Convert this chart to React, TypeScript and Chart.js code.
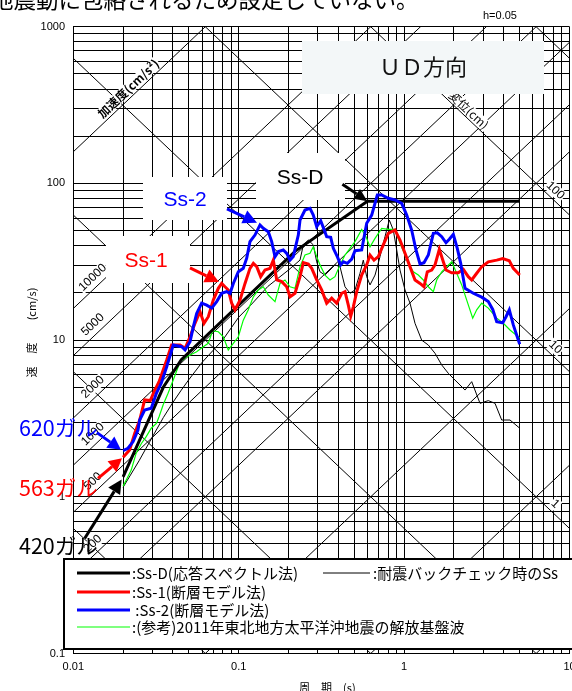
import { useEffect, useRef } from "react";
import { Chart, registerables } from "chart.js";
Chart.register(...registerables);

const TWO_PI = 2 * Math.PI;

// ---- Data (period s, pseudo velocity cm/s) ----
const ss2Period = [0.02,0.0214,0.023,0.0246,0.0252,0.027,0.0296,0.0318,0.034,0.0367,0.0402,0.0452,0.0474,0.0508,0.0532,0.0557,0.0597,0.064,0.0687,0.0736,0.0789,0.0846,0.0886,0.0928,0.0995,0.1066,0.1118,0.117,0.1254,0.1345,0.1408,0.151,0.1583,0.1658,0.1736,0.1861,0.1951,0.2043,0.2138,0.2293,0.2348,0.2517,0.2698,0.2825,0.2962,0.3131,0.3279,0.3404,0.3599,0.3733,0.3946,0.4137,0.429,0.4536,0.4823,0.5049,0.5541,0.594,0.6369,0.6887,0.7321,0.8026,0.881,0.967,1.037,1.111,1.18,1.248,1.319,1.401,1.502,1.588,1.688,1.792,1.876,1.984,2.097,2.199,2.335,2.62,2.946,3.229,3.434,3.63,3.947,4.132,4.326,4.573,5.0];
const ss2Velocity = [1.97,2.04,2.25,2.67,3.09,3.58,3.67,4.58,5.3,6.76,9.3,9.08,8.65,9.77,12.2,14.8,17.2,16.7,16.0,17.6,19.9,20.4,19.9,23.0,27.3,28.7,33.3,42.5,46.8,54.3,51.7,49.2,42.5,34.1,36.7,37.6,35.8,32.4,34.1,46.8,58.4,67.6,69.4,62.8,52.9,57.8,50.9,45.7,45.3,38.5,34.1,30.2,31.6,30.9,32.9,37.2,37.6,55.7,62.8,84.3,84.3,80.3,78.4,74.6,62.8,50.4,37.6,30.6,31.2,34.9,48.0,48.4,45.7,41.8,44.0,47.3,38.5,30.9,21.4,19.9,18.8,17.6,15.7,13.1,12.9,14.1,15.6,12.5,9.4];

const ss1Period = [0.02,0.0219,0.0235,0.0252,0.027,0.0292,0.0311,0.033,0.0367,0.0393,0.0442,0.0474,0.0508,0.0544,0.0583,0.0617,0.0655,0.0702,0.0753,0.0789,0.0826,0.0865,0.0907,0.095,0.1018,0.1092,0.117,0.1226,0.1285,0.1358,0.1442,0.1546,0.1619,0.1698,0.182,0.1951,0.2043,0.219,0.2348,0.2459,0.2636,0.2763,0.2962,0.3174,0.3404,0.365,0.3913,0.4195,0.4393,0.46,0.4756,0.4932,0.5171,0.5541,0.594,0.6222,0.6577,0.6982,0.7484,0.8026,0.881,0.9445,1.013,1.075,1.164,1.248,1.319,1.381,1.469,1.538,1.633,1.726,1.792,1.94,2.127,2.28,2.444,2.563,2.748,2.946,3.229,3.63,3.947,4.326,4.573,5.0];
const ss1Velocity = [1.79,1.99,2.54,3.09,4.15,4.11,4.8,5.43,7.46,9.3,9.3,8.87,10.5,12.8,15.2,12.8,14.1,18.0,21.4,23.0,21.9,20.9,17.2,15.6,18.0,23.0,28.7,30.9,29.4,25.4,28.0,28.7,32.4,24.2,23.6,21.9,18.9,19.9,25.4,31.2,30.6,28.7,24.2,20.9,17.2,18.5,17.2,19.9,20.4,16.7,14.2,16.3,20.4,26.0,30.2,34.9,32.4,34.1,40.5,48.0,50.4,43.5,35.8,30.2,24.2,23.0,21.9,27.3,28.0,30.2,38.0,31.6,28.0,26.9,26.9,28.3,25.4,24.2,26.7,29.4,31.6,32.4,33.1,32.1,28.7,26.0];

const ssdPeriod = [0.02, 0.035, 0.045, 0.22, 0.6, 5.0];
const ssdVelocity = [1.34, 5.0, 7.5, 37, 77, 77];

const bcPeriod = [0.02,0.025,0.03,0.035,0.04,0.045,0.05,0.06,0.07,0.08,0.1,0.12,0.15,0.2,0.2348,0.2459,0.2636,0.2825,0.2962,0.3101,0.3325,0.3565,0.3821,0.4097,0.4393,0.471,0.5049,0.5413,0.5667,0.594,0.6222,0.6672,0.7152,0.7665,0.8138,0.8604,0.9023,0.9445,1.013,1.086,1.164,1.277,1.401,1.538,1.688,1.85,2.031,2.178,2.335,2.563,2.877,3.229,3.545,3.891,4.368,5.0];
const bcVelocity = [1.15,1.7,2.4,3.2,4.0,4.8,5.6,7.2,8.6,10,14,17,22,28,32.4,40.5,43.5,40.5,31.6,27.3,26.0,28.0,30.2,29.4,21.9,19.9,20.9,26.7,32.4,25.4,22.5,26.0,34.1,45.7,58.4,50.4,37.6,28.0,20.9,17.2,12.8,10.0,9.3,8.24,6.94,6.14,5.56,5.17,4.8,5.43,3.95,4.11,3.95,3.09,3.09,2.74];

const refPeriod = [0.02,0.0209,0.0224,0.024,0.0258,0.0276,0.0296,0.0318,0.033,0.0349,0.0374,0.0402,0.0442,0.0485,0.0557,0.0611,0.0655,0.0696,0.0753,0.0807,0.0865,0.0928,0.0995,0.1066,0.1143,0.1226,0.1314,0.1408,0.151,0.1658,0.1777,0.1905,0.2043,0.219,0.2348,0.2517,0.2698,0.2825,0.2962,0.3101,0.3325,0.3565,0.3821,0.4097,0.4393,0.471,0.5049,0.5541,0.5885,0.6222,0.6672,0.7321,0.8026,0.881,0.9445,1.013,1.06,1.137,1.219,1.306,1.401,1.502,1.575,1.688,1.81,1.94,2.08,2.23,2.391,2.599,2.748,2.946,3.229,3.63,3.98,4.368,5.0];
const refVelocity = [1.17,1.28,1.48,1.9,2.19,2.42,2.74,2.94,3.24,3.85,4.58,5.56,7.28,7.84,8.43,9.08,9.54,11.5,11.3,10.5,8.65,9.54,10.5,13.4,15.6,18.9,20.9,21.9,19.4,17.6,23.0,24.2,21.9,21.4,29.4,34.9,35.8,39.4,34.1,30.2,26.0,24.2,25.4,30.2,34.9,38.5,42.5,50.9,45.7,39.4,44.6,51.7,50.9,50.9,41.5,34.9,30.9,27.3,26.0,24.2,21.9,20.4,24.2,27.3,29.4,31.6,26.7,22.5,18.0,13.8,15.6,17.2,16.0,13.8,12.8,11.6,10.3];

// tripartite grid values
const accelLines = [0.1, 1, 10, 100, 200, 500, 1000, 2000, 5000, 10000, 100000];
const accelLabels = ["200", "500", "1000", "2000", "5000", "10000"];
const dispLines = [0.001, 0.01, 0.1, 1, 10, 100, 1000];
const dispLabels = ["1", "10", "100"];

const xTickLabels = ["0.01", "0.1", "1", "10"];
const yTickLabels = ["0.1", "1", "10", "100", "1000"];

const legendItems = [":Ss-D(応答スペクトル法)", ":Ss-1(断層モデル法)", " :Ss-2(断層モデル法)", ":(参考)2011年東北地方太平洋沖地震の解放基盤波"];
const legendExtra = ":耐震バックチェック時のSs";

const FJP = '"Noto Sans CJK JP", "Liberation Sans", sans-serif';
const FLA = '"Liberation Sans", "Noto Sans CJK JP", sans-serif';

function logGrid(lo: number, hi: number) {
  const out: number[] = [];
  const e0 = Math.round(Math.log10(lo)), e1 = Math.round(Math.log10(hi));
  for (let e = e0; e < e1; e++) for (let m = 1; m < 10; m++) out.push(parseFloat((m * Math.pow(10, e)).toPrecision(3)));
  out.push(hi);
  return out;
}
const periodGrid = logGrid(0.01, 10);
const velocityGrid = logGrid(0.1, 1000);

const pts = (p: number[], v: number[]) => p.map((t, i) => ({ x: t, y: v[i] }));

function arrow(ctx: CanvasRenderingContext2D, x1: number, y1: number, x2: number, y2: number, color: string, w: number, hl: number, hw: number) {
  const ang = Math.atan2(y2 - y1, x2 - x1);
  const bx = x2 - hl * Math.cos(ang), by = y2 - hl * Math.sin(ang);
  ctx.save();
  ctx.strokeStyle = color; ctx.fillStyle = color; ctx.lineWidth = w;
  ctx.beginPath(); ctx.moveTo(x1, y1); ctx.lineTo(bx, by); ctx.stroke();
  ctx.beginPath();
  ctx.moveTo(x2, y2);
  ctx.lineTo(bx + hw * Math.sin(ang), by - hw * Math.cos(ang));
  ctx.lineTo(bx - hw * Math.sin(ang), by + hw * Math.cos(ang));
  ctx.closePath(); ctx.fill();
  ctx.restore();
}

function rotText(ctx: CanvasRenderingContext2D, text: string, cx: number, cy: number, ang: number, font: string, halo: boolean) {
  ctx.save();
  ctx.translate(cx, cy); ctx.rotate(ang);
  ctx.font = font; ctx.textAlign = "center"; ctx.textBaseline = "middle";
  if (halo) {
    const w = ctx.measureText(text).width;
    ctx.fillStyle = "#fff";
    ctx.fillRect(-w / 2 - 1, -6, w + 2, 12);
  }
  ctx.fillStyle = "#000";
  ctx.fillText(text, 0, 0);
  ctx.restore();
}

const overlay = {
  id: "overlay",
  beforeDatasetsDraw(chart: any) {
    const { ctx, chartArea: a } = chart;
    const px = (t: number) => chart.scales.x.getPixelForValue(t);
    const py = (v: number) => chart.scales.y.getPixelForValue(v);
    ctx.save();
    ctx.beginPath(); ctx.rect(a.left, a.top, a.right - a.left, a.bottom - a.top); ctx.clip();
    ctx.strokeStyle = "#000"; ctx.lineWidth = 1;
    const tA = 0.001, tB = 100;
    for (const A of accelLines) {
      ctx.beginPath(); ctx.moveTo(px(tA), py(A * tA / TWO_PI)); ctx.lineTo(px(tB), py(A * tB / TWO_PI)); ctx.stroke();
    }
    for (const D of dispLines) {
      ctx.beginPath(); ctx.moveTo(px(tA), py(TWO_PI * D / tA)); ctx.lineTo(px(tB), py(TWO_PI * D / tB)); ctx.stroke();
    }
    // labels on acceleration lines (left)
    const angA = Math.atan2(py(10) - py(1), px(10) - px(1));
    const nA = { x: Math.sin(angA), y: -Math.cos(angA) };
    const tl = 0.0143;
    for (const s of accelLabels) {
      const A = parseFloat(s);
      const cx = px(tl) + nA.x * 9, cy = py(A * tl / TWO_PI) + nA.y * 9;
      rotText(ctx, s, cx, cy, angA, `12px ${FLA}`, true);
    }
    // labels on displacement lines (right)
    const angD = Math.atan2(py(1) - py(10), px(10) - px(1));
    const nD = { x: Math.sin(angD), y: -Math.cos(angD) };
    const tr = 7.6;
    for (const s of dispLabels) {
      const D = parseFloat(s);
      const cx = px(tr) + nD.x * 8, cy = py(TWO_PI * D / tr) + nD.y * 8;
      rotText(ctx, s, cx, cy, angD, `12px ${FLA}`, true);
    }
    // axis names along lines
    const tAcc = 0.0232;
    rotText(ctx, "加速度(cm/s²)", px(tAcc) + nA.x * 8, py(100000 * tAcc / TWO_PI) + nA.y * 8, angA, `bold 12px ${FJP}`, true);
    const tDis = 2.3;
    rotText(ctx, "変位(cm)", px(tDis) + nD.x * 7, py(TWO_PI * 100 / tDis) + nD.y * 7, angD, `12px ${FJP}`, true);
    ctx.restore();
  },
  afterDatasetsDraw(chart: any) {
    const { ctx, chartArea: a } = chart;
    const px = (t: number) => chart.scales.x.getPixelForValue(t);
    const py = (v: number) => chart.scales.y.getPixelForValue(v);
    ctx.save();
    // label boxes
    const box = (x: number, y: number, w: number, h: number, fill: string) => { ctx.fillStyle = fill; ctx.fillRect(x, y, w, h); };
    box(256, 153, 89, 47, "#fff");
    box(143, 177, 84, 43, "#fff");
    box(106, 236, 84, 47, "#fff");
    box(302, 41, 242, 53, "#f3f7f8");
    ctx.textAlign = "center"; ctx.textBaseline = "middle";
    ctx.font = `21px ${FLA}`;
    ctx.fillStyle = "#000"; ctx.fillText("Ss-D", 300, 178);
    ctx.fillStyle = "#0000ff"; ctx.fillText("Ss-2", 185, 200);
    ctx.fillStyle = "#ff0000"; ctx.fillText("Ss-1", 146, 261);
    ctx.fillStyle = "#111"; ctx.font = `22px ${FJP}`;
    ctx.fillText("ＵＤ方向", 423, 67);

    // arrows (tips anchored on data space)
    const tip = (t: number, v: number) => ({ x: px(t), y: py(v) });
    let p = tip(0.6, 77); arrow(ctx, p.x - 25, p.y - 17, p.x, p.y, "#000", 3, 13, 6);
    p = tip(0.129, 56); arrow(ctx, p.x - 30, p.y - 14, p.x, p.y, "#0000ff", 3, 14, 7);
    p = tip(0.076, 23.5); arrow(ctx, p.x - 29, p.y - 14, p.x, p.y, "#ff0000", 3, 14, 7);
    p = tip(0.0194, 2.0); arrow(ctx, p.x - 24, p.y - 17, p.x, p.y, "#0000ff", 3, 13, 7);
    p = tip(0.0197, 1.76); arrow(ctx, p.x - 24, p.y + 20, p.x, p.y, "#ff0000", 3, 13, 7);
    p = tip(0.0196, 1.29); arrow(ctx, p.x - 37, p.y + 59, p.x, p.y, "#000", 3, 14, 7);

    // tick labels
    ctx.fillStyle = "#000"; ctx.font = `11px ${FLA}`;
    ctx.textAlign = "center"; ctx.textBaseline = "middle";
    xTickLabels.forEach((s) => ctx.fillText(s, px(parseFloat(s)), 667));
    ctx.textAlign = "right";
    yTickLabels.forEach((s) => ctx.fillText(s, 65, py(parseFloat(s))));
    ctx.textAlign = "left";
    ctx.fillText("h=0.05", 483, 16);
    // axis titles
    ctx.textAlign = "center";
    ctx.font = `11px ${FJP}`;
    ctx.fillText("周　期　(s)", (a.left + a.right) / 2 + 6, 688);
    ctx.save();
    ctx.translate(32, 0); ctx.rotate(-Math.PI / 2);
    ctx.fillText("速", -372, 0);
    ctx.fillText("度", -348, 0);
    ctx.fillText("(cm/s)", -304, 0);
    ctx.restore();

    // left labels
    ctx.textAlign = "left"; ctx.font = `21.5px ${FJP}`;
    ctx.fillStyle = "#0000ff"; ctx.fillText("620ガル", 19, 428);
    ctx.fillStyle = "#ff0000"; ctx.fillText("563ガル", 19, 488);
    ctx.fillStyle = "#000"; ctx.fillText("420ガル", 19, 546);

    // legend
    ctx.fillStyle = "#fff"; ctx.fillRect(64, 559, 520, 90);
    ctx.strokeStyle = "#000"; ctx.lineWidth = 2; ctx.strokeRect(64, 559, 520, 90);
    const rows = [573, 592, 610, 627];
    const styles = [["#000", 3], ["#ff0000", 3], ["#0000ff", 3], ["#00ff00", 1.2]] as const;
    ctx.font = `15px ${FJP}`; ctx.textBaseline = "middle"; ctx.textAlign = "left";
    legendItems.forEach((s, i) => {
      ctx.strokeStyle = styles[i][0]; ctx.lineWidth = styles[i][1];
      ctx.beginPath(); ctx.moveTo(77, rows[i]); ctx.lineTo(130, rows[i]); ctx.stroke();
      ctx.fillStyle = "#000"; ctx.fillText(s, 132, rows[i]);
    });
    ctx.strokeStyle = "#000"; ctx.lineWidth = 1;
    ctx.beginPath(); ctx.moveTo(323, rows[0]); ctx.lineTo(370, rows[0]); ctx.stroke();
    ctx.fillText(legendExtra, 373, rows[0]);

    // header (cut off)
    ctx.font = `22.5px ${FJP}`; ctx.textBaseline = "alphabetic"; ctx.textAlign = "left";
    ctx.fillText("地震動に包絡されるため設定していない。", -9, 8);
    ctx.restore();
  },
};

export default function App() {
  const ref = useRef<HTMLCanvasElement | null>(null);
  useEffect(() => {
    if (!ref.current) return;
    const chart = new Chart(ref.current, {
      type: "line",
      data: {
        datasets: [
          { label: "Ss-2", data: pts(ss2Period, ss2Velocity), borderColor: "#0000ff", borderWidth: 3 },
          { label: "Ss-1", data: pts(ss1Period, ss1Velocity), borderColor: "#ff0000", borderWidth: 3 },
          { label: "Ss-D", data: pts(ssdPeriod, ssdVelocity), borderColor: "#000", borderWidth: 3 },
          { label: "2011", data: pts(refPeriod, refVelocity), borderColor: "#00ff00", borderWidth: 1.2 },
          { label: "BC Ss", data: pts(bcPeriod, bcVelocity), borderColor: "#000", borderWidth: 1 },
        ],
      },
      options: {
        responsive: false,
        animation: false,
        devicePixelRatio: 1,
        layout: { padding: { left: 0, top: 26.7, right: 2.5, bottom: 0 } },
        plugins: { legend: { display: false }, tooltip: { enabled: false } },
        elements: { point: { radius: 0 }, line: { tension: 0 } },
        scales: {
          x: {
            type: "logarithmic", min: 0.01, max: 10,
            afterBuildTicks: (s: any) => { s.ticks = periodGrid.map((v) => ({ value: v })); },
            afterFit: (s: any) => { s.height = 37.5; },
            ticks: { display: false },
            grid: { color: "#000", lineWidth: 1, drawTicks: false },
            border: { color: "#000", width: 1 },
          },
          y: {
            type: "logarithmic", min: 0.1, max: 1000,
            afterBuildTicks: (s: any) => { s.ticks = velocityGrid.map((v) => ({ value: v })); },
            afterFit: (s: any) => { s.width = 73.3; },
            ticks: { display: false },
            grid: { color: "#000", lineWidth: 1, drawTicks: false },
            border: { color: "#000", width: 1 },
          },
        },
      } as any,
      plugins: [overlay],
    });
    return () => chart.destroy();
  }, []);
  return (
    <div style={{ position: "absolute", left: 0, top: 0, width: 572, height: 691, background: "#fff" }}>
      <canvas ref={ref} width={572} height={691} style={{ display: "block", width: 572, height: 691 }} />
    </div>
  );
}
